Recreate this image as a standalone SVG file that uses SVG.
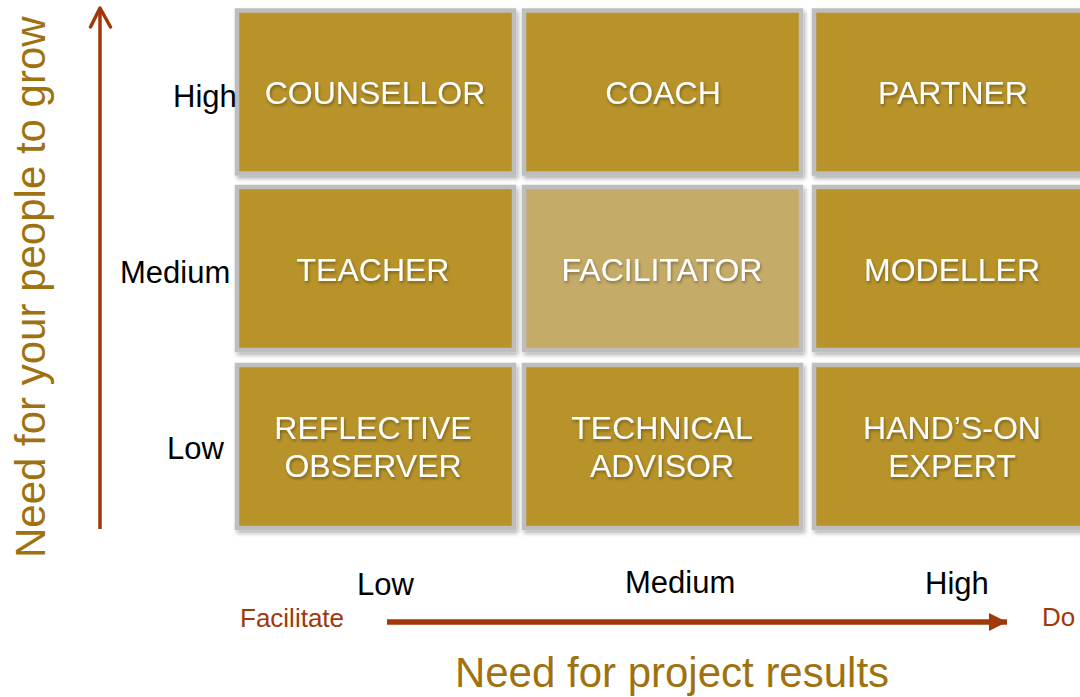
<svg xmlns="http://www.w3.org/2000/svg" width="1080" height="697" viewBox="0 0 1080 697">
  <defs>
    <style>
      .cell { fill: #B8932A; stroke: #BEBEBE; stroke-width: 4.5; }
      .cell.light { fill: #C5AB68; }
      .role { fill: #FFFFFF; font-family: "Liberation Sans", Arial, sans-serif; font-size: 32px; text-anchor: middle; }
      .lvl { fill: #000000; font-family: "Liberation Sans", Arial, sans-serif; font-size: 31px; }
      .end { fill: #A0380A; font-family: "Liberation Sans", Arial, sans-serif; font-size: 26px; }
      .title { fill: #A0720F; font-family: "Liberation Sans", Arial, sans-serif; font-size: 42px; }
      .axis { stroke: #A0380A; fill: none; }
    </style>
    <filter id="cellShadow" x="-5%" y="-5%" width="115%" height="120%">
      <feDropShadow dx="2" dy="3" stdDeviation="2" flood-color="#000" flood-opacity="0.3"/>
    </filter>
    <filter id="textShadow" x="-10%" y="-30%" width="120%" height="170%">
      <feDropShadow dx="1" dy="2" stdDeviation="1.5" flood-color="#000" flood-opacity="0.35"/>
    </filter>
    <marker id="filledHead" viewBox="0 0 18 18" refX="18" refY="9" markerWidth="18" markerHeight="18" markerUnits="userSpaceOnUse" orient="auto">
      <path d="M0,0 L18,9 L0,18 Z" fill="#A0380A"/>
    </marker>
  </defs>

  <!-- axes -->
  <g id="connectors">
    <line class="axis" x1="100" y1="529" x2="100" y2="9" stroke-width="3.5"/>
    <polyline class="axis" points="90.5,27 100,8 110.5,27" stroke-width="3.5" stroke-linecap="round" stroke-linejoin="round"/>
    <line class="axis" x1="387" y1="622" x2="1007" y2="622" stroke-width="5.5" marker-end="url(#filledHead)"/>
  </g>

  <!-- row: High -->
  <g id="counsellor">
    <rect class="cell" x="237" y="10.5" width="277" height="163" filter="url(#cellShadow)"/>
    <text class="role" x="375" y="104" filter="url(#textShadow)">COUNSELLOR</text>
  </g>
  <g id="coach">
    <rect class="cell" x="524" y="10.5" width="277" height="163" filter="url(#cellShadow)"/>
    <text class="role" x="663" y="104" filter="url(#textShadow)">COACH</text>
  </g>
  <g id="partner">
    <rect class="cell" x="814" y="10.5" width="277" height="163" filter="url(#cellShadow)"/>
    <text class="role" x="953" y="104" filter="url(#textShadow)">PARTNER</text>
  </g>

  <!-- row: Medium -->
  <g id="teacher">
    <rect class="cell" x="237" y="187" width="277" height="163" filter="url(#cellShadow)"/>
    <text class="role" x="373" y="281" filter="url(#textShadow)">TEACHER</text>
  </g>
  <g id="facilitator">
    <rect class="cell light" x="524" y="187" width="277" height="163" filter="url(#cellShadow)"/>
    <text class="role" x="662" y="281" filter="url(#textShadow)">FACILITATOR</text>
  </g>
  <g id="modeller">
    <rect class="cell" x="814" y="187" width="277" height="163" filter="url(#cellShadow)"/>
    <text class="role" x="952" y="281" filter="url(#textShadow)">MODELLER</text>
  </g>

  <!-- row: Low -->
  <g id="reflective-observer">
    <rect class="cell" x="237" y="365" width="277" height="163" filter="url(#cellShadow)"/>
    <text class="role" x="373" y="439" filter="url(#textShadow)">REFLECTIVE</text>
    <text class="role" x="373" y="477" filter="url(#textShadow)">OBSERVER</text>
  </g>
  <g id="technical-advisor">
    <rect class="cell" x="524" y="365" width="277" height="163" filter="url(#cellShadow)"/>
    <text class="role" x="662" y="439" filter="url(#textShadow)">TECHNICAL</text>
    <text class="role" x="662" y="477" filter="url(#textShadow)">ADVISOR</text>
  </g>
  <g id="hands-on-expert">
    <rect class="cell" x="814" y="365" width="277" height="163" filter="url(#cellShadow)"/>
    <text class="role" x="952" y="439" filter="url(#textShadow)">HAND’S-ON</text>
    <text class="role" x="952" y="477" filter="url(#textShadow)">EXPERT</text>
  </g>

  <!-- vertical axis labels -->
  <g id="y-labels">
    <text class="lvl" x="173" y="107">High</text>
    <text class="lvl" x="120" y="283">Medium</text>
    <text class="lvl" x="167" y="459">Low</text>
    <text class="title" transform="translate(45,558) rotate(-90)">Need for your people to grow</text>
  </g>

  <!-- horizontal axis labels -->
  <g id="x-labels">
    <text class="lvl" x="357" y="595">Low</text>
    <text class="lvl" x="625" y="593">Medium</text>
    <text class="lvl" x="925" y="594">High</text>
    <text class="end" x="240" y="627">Facilitate</text>
    <text class="end" x="1042" y="626">Do</text>
    <text class="title" x="672" y="687" text-anchor="middle">Need for project results</text>
  </g>
</svg>
